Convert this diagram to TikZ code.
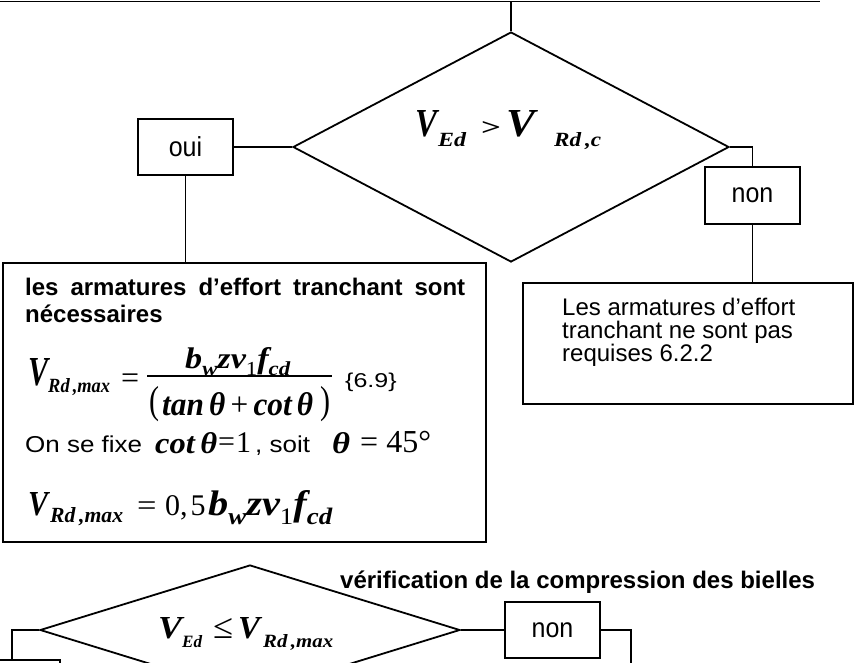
\documentclass[tikz,border=0pt]{standalone}
\usepackage{fontspec}
\usepackage{graphicx}
\setmainfont{Liberation Sans}
\newfontfamily\tnr{Liberation Serif}
\usetikzlibrary{shapes.geometric}
\newcommand\fs[1]{\fontsize{#1}{#1}\selectfont}
\newcommand\bi[1]{{\tnr\bfseries\itshape #1}}
\newcommand\tr[1]{{\tnr #1}}
\newcommand\lo[1]{\smash{\raisebox{-8pt}{\fs{20}#1}}}
\newcommand\rz[3]{\resizebox{#1pt}{#2pt}{\fs{30}#3}}
\tikzset{
  ln/.style={line width=1.8pt},
  box/.style={draw, line width=1.8pt, rectangle, inner sep=0pt},
  dia/.style={draw, line width=1.8pt, diamond, inner sep=0pt},
  txt/.style={inner sep=0pt, font=\fs{24}},
  btxt/.style={inner sep=0pt, font=\bfseries\fs{24}},
  pc/.style={inner sep=0pt, anchor=base west},
}
\begin{document}
\begin{tikzpicture}[x=1pt,y=-1pt]
\useasboundingbox (0,0) rectangle (857,662);
\clip (0,0) rectangle (857,662);
% top
\coordinate (tl) at (0,1.5);
\coordinate (tr) at (820,1.5);
\coordinate (tm) at (511,1.5);
\draw[ln] (tl) -- (tr);
\node[dia, minimum width=436pt, minimum height=230pt] (d1) at (511,147) {};
\draw[ln] (tm) -- (d1.north);
% formula in first diamond
\node[pc] (a1) at (415,136) {\rz{22}{26}{\bi{V}}};
\node[pc] (a2) at (438,146) {\rz{28}{14}{\bi{Ed}}};
\node[pc] (a3) at (481,135) {\rz{20}{14}{\tr{\bfseries >}}};
\node[pc] (a4) at (506,136) {\rz{29}{26}{\bi{V}}};
\node[pc] (a5) at (554,146) {\rz{47}{14}{\bi{Rd\,,c}}};
% oui / non
\node[box, minimum width=95pt, minimum height=56pt, font=\fs{25}] (oui) at (185.5,147) {\scalebox{1}[1.1]{oui}\hspace{20pt}};
\node[box, minimum width=95pt, minimum height=57pt, font=\fs{25}] (non1) at (752.5,195.5) {\scalebox{1}[1.1]{non}};
\draw[ln] (oui.east) -- (d1.west);
\draw[ln] (d1.east) -| (non1.north);
% boxes
\node[box, minimum width=483pt, minimum height=279pt] (lbox) at (244.5,402.5) {};
\node[box, minimum width=330pt, minimum height=121pt] (rbox) at (688,343.5) {};
\draw[ln] (oui.south) -- (oui.south |- lbox.north);
\draw[ln] (non1.south) -- (non1.south |- rbox.north);
% right box text
\node[txt, anchor=base west] (r1) at (562,315) {Les armatures d’effort};
\node[txt, anchor=base west] (r2) at (562,338) {tranchant ne sont pas};
\node[txt, anchor=base west] (r3) at (562,361) {requises 6.2.2};
% left box text
\node[btxt, anchor=base west] (l1) at (25,295) {\makebox[440pt][s]{les armatures d'effort tranchant sont}};
\node[btxt, anchor=base west] (l2) at (25,322) {nécessaires};
% fraction formula
\node[pc] (b1) at (28,385) {\rz{20}{27}{\bi{V}}};
\node[pc] (b2) at (48,392) {\rz{62}{14}{\bi{Rd\,,max}}};
\node[pc] (b3) at (121,388.5) {\fs{32}\tr{=}};
\coordinate (bara) at (147,376);
\coordinate (barb) at (332,376);
\draw[line width=1.5pt] (bara) -- (barb);
\node[pc] (b4) at (185,368) {\rz{105}{21}{\bi{b}\lo{\bi{w}}\bi{z}\bi{v}\lo{\tr{1}}\bi{f}\lo{\bi{cd}}}};
\node[inner sep=0pt] (b5) at (154.5,404.5) {\scalebox{1}[1.3]{\fs{30}\tr{(}}};
\node[inner sep=0pt] (b6) at (325,404.5) {\scalebox{1}[1.3]{\fs{30}\tr{)}}};
\node[pc] (b7) at (162,415) {\rz{151}{23}{\bi{tan}\,\bi{θ}\,\tr{+}\,\bi{cot}\,\bi{θ}}};
\node[pc] (b8) at (345,387) {\scalebox{1.25}[1]{\fs{20}\{6.9\}}};
% on se fixe
\node[pc] (c1) at (25,452) {\scalebox{1.13}[1]{\fs{23}On se fixe}};
\node[pc] (c2) at (155,453) {\rz{62}{21}{\bi{cot}\,\bi{θ}}};
\node[pc] (c3) at (218,451) {\fs{30}\tr{=}};
\node[pc] (c4) at (236,452) {\fs{30}\tr{1}};
\node[pc] (c5) at (255,452) {\scalebox{1.13}[1]{\fs{23}, soit}};
\node[pc] (c6) at (332,453) {\rz{18}{21}{\bi{θ}}};
\node[pc] (c7) at (360,452) {\fs{32}\tr{= 45°}};
% second formula
\node[pc] (e1) at (28,515) {\rz{20}{23}{\bi{V}}};
\node[pc] (e2) at (50,522) {\rz{73}{15}{\bi{Rd\,,max}}};
\node[pc] (e3) at (137,515) {\scalebox{1.15}[1]{\fs{30}\tr{=}}};
\node[pc] (e4) at (165,515) {\fs{30}\tr{0,\hspace{3pt}5}};
\node[pc] (e5) at (208,515) {\rz{124}{25}{\bi{b}\lo{\bi{w}}\bi{z}\bi{v}\lo{\tr{1}}\bi{f}\lo{\bi{cd}}}};
% bottom
\node[btxt, anchor=base west] (verif) at (340,588) {vérification de la compression des bielles};
\node[dia, minimum width=420pt, minimum height=130pt] (d2) at (250,630) {};
\node[pc] (f1) at (158,638) {\rz{24}{21}{\bi{V}}};
\node[pc] (f2) at (182,647) {\rz{20}{12}{\bi{Ed}}};
\node[pc] (f3) at (213,638) {\rz{20}{20}{\tr{≤}}};
\node[pc] (f4) at (238,638) {\rz{22}{21}{\bi{V}}};
\node[pc] (f5) at (263,647) {\rz{70}{13}{\bi{Rd\,,max}}};
\node[box, minimum width=95pt, minimum height=56pt, font=\fs{25}] (non2) at (552.5,630) {\scalebox{1}[1.1]{non}};
\draw[ln] (d2.east) -- (non2.west);
\node[box, minimum width=70pt, minimum height=60pt] (b3box) at (25,690) {};
\coordinate (j) at (12,630);
\draw[ln] (d2.west) -- (j) -- (j |- b3box.north);
\coordinate (k) at (631,630);
\coordinate (k2) at (631,670);
\draw[ln] (non2.east) -- (k) -- (k2);
\end{tikzpicture}
\end{document}
